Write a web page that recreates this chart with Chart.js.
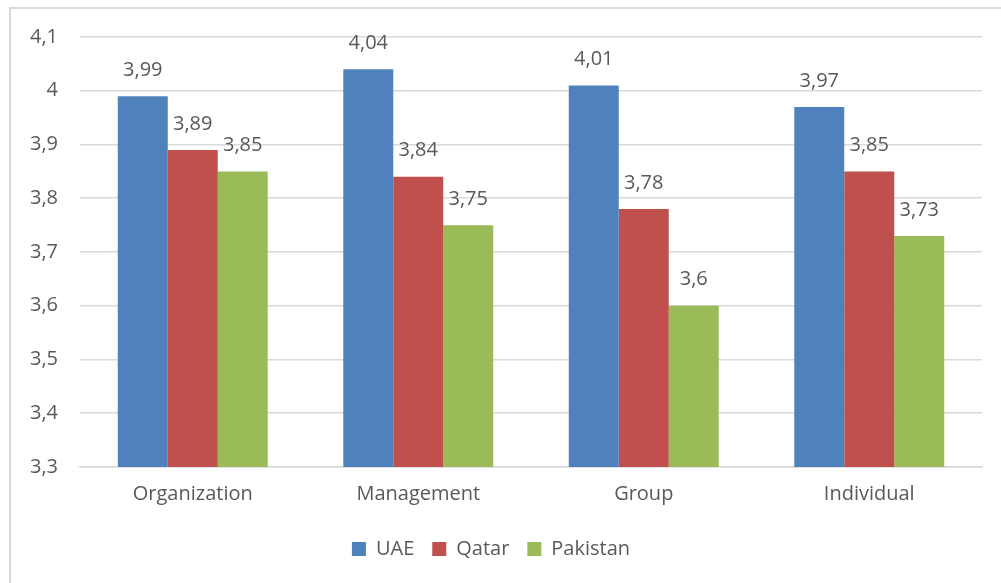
<!DOCTYPE html>
<html>
<head>
<meta charset="utf-8">
<script src="https://cdn.jsdelivr.net/npm/chart.js@4"></script>
<style>
  body { margin: 0; background: #fff; overflow: hidden; }
  #frame { position: absolute; left: 9px; top: 7px; width: 1010px; height: 600px; border: 2px solid #d9d9d9; }
  #wrap { position: absolute; left: 0; top: 0; width: 1001px; height: 583px; }
</style>
</head>
<body>
<div id="frame"></div>
<div id="wrap"><canvas id="chart"></canvas></div>
<script>
const categories = ["Organization", "Management", "Group", "Individual"];
const uae = [3.99, 4.04, 4.01, 3.97];
const qatar = [3.89, 3.84, 3.78, 3.85];
const pakistan = [3.85, 3.75, 3.6, 3.73];

const fontFamily = "'Open Sans', sans-serif";
const textColor = "#595959";
const fontSize = 20;

const fmt = (v) => String(v).replace(".", ",");

const valueLabels = {
  id: "valueLabels",
  afterDatasetsDraw(chart) {
    const ctx = chart.ctx;
    ctx.save();
    ctx.font = fontSize + "px " + fontFamily;
    ctx.fillStyle = textColor;
    ctx.textAlign = "center";
    ctx.textBaseline = "middle";
    chart.data.datasets.forEach((ds, i) => {
      chart.getDatasetMeta(i).data.forEach((bar, j) => {
        ctx.fillText(fmt(ds.data[j]), bar.x, bar.y - 26);
      });
    });
    ctx.restore();
  }
};

new Chart(document.getElementById("chart"), {
  type: "bar",
  data: {
    labels: categories,
    datasets: [
      { label: "UAE", data: uae, backgroundColor: "#4F81BD" },
      { label: "Qatar", data: qatar, backgroundColor: "#C0504D" },
      { label: "Pakistan", data: pakistan, backgroundColor: "#9BBB59" }
    ]
  },
  options: {
    responsive: true,
    maintainAspectRatio: false,
    animation: false,
    layout: { padding: { top: 37, right: 19, left: 0, bottom: 14 } },
    datasets: { bar: { categoryPercentage: 0.665, barPercentage: 1 } },
    scales: {
      y: {
        min: 3.3,
        max: 4.1,
        ticks: {
          stepSize: 0.1,
          color: textColor,
          font: { family: fontFamily, size: fontSize },
          padding: 22,
          callback: (v) => fmt(Math.round(v * 10) / 10)
        },
        grid: { color: "#d9d9d9", lineWidth: 1.5, drawTicks: false },
        border: { display: false },
        afterFit(scale) { scale.width = 80; }
      },
      x: {
        ticks: { color: textColor, font: { family: fontFamily, size: fontSize }, padding: 15 },
        grid: { display: false, drawTicks: false },
        border: { color: "#d9d9d9", width: 1.5 }
      }
    },
    plugins: {
      legend: {
        position: "bottom",
        labels: {
          color: textColor,
          font: { family: fontFamily, size: fontSize },
          boxWidth: 14,
          boxHeight: 14,
          padding: 18
        }
      },
      tooltip: { enabled: false }
    }
  },
  plugins: [valueLabels]
});
</script>
</body>
</html>
